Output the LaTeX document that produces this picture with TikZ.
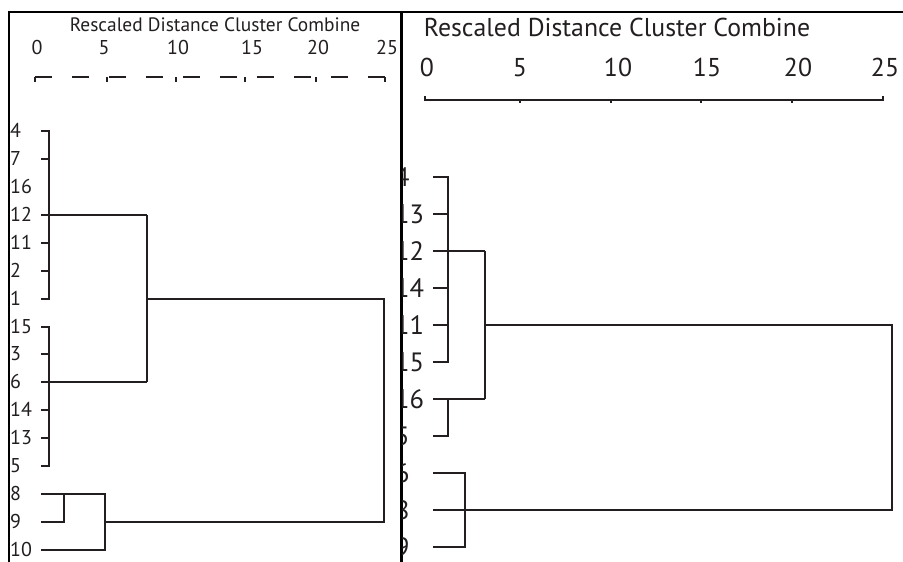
\documentclass[tikz,border=0pt]{standalone}
\usepackage{fontspec}
\setmainfont{PT Sans}
\definecolor{ink}{HTML}{231F20}
\begin{document}
\begin{tikzpicture}[x=1pt,y=-1pt,
  frame/.style={line width=2.2pt, black},
  dendro/.style={line width=2.8pt, ink},
  labL/.style={inner sep=0pt, anchor=base west, text=ink, font=\fontsize{20}{20}\selectfont},
  labR/.style={inner sep=0pt, anchor=base west, text=ink, font=\fontsize{26.5}{26.5}\selectfont},
  numL/.style={inner sep=0pt, anchor=base, text=ink, font=\fontsize{20}{20}\selectfont},
  ttlL/.style={inner sep=0pt, anchor=base, text=ink, font=\fontsize{19.4}{19.4}\selectfont},
  numR/.style={inner sep=0pt, anchor=base, text=ink, font=\fontsize{25.8}{25.8}\selectfont}]
\useasboundingbox (0,0) rectangle (903,562);
\fill[white] (0,0) rectangle (903,562);
% frames
\draw[frame] (9,562) -- (9,12) -- (903,12);
\draw[frame] (401.5,12) -- (401.5,562);
% ---------------- left panel ----------------
\node[ttlL] (tL) at (215,31) {Rescaled Distance Cluster Combine};
\foreach \v/\x in {0/37,5/104,10/178,15/252,20/318,25/387}
  \node[numL] (nL\v) at (\x,54) {\v};
\draw[dendro, line width=2.6pt, dash pattern=on 17pt off 20pt] (35,77) -- (385,77);
\foreach \x in {35,107,176,245,316,385}
  \draw[dendro, line width=2.6pt] (\x,77) -- (\x,82);
\foreach \t [count=\i from 0] in {4,7,16,12,11,2,1,15,3,6,14,13,5,8,9,10}
  \node[labL] (l\t) at (10,{137.5+27.93*\i}) {\t};
% group 1
\draw[dendro] (41,131) -- (49,131) -- (49,299) -- (41,299);
\draw[dendro] (41,159) -- (49,159);
\draw[dendro] (41,243) -- (49,243);
\draw[dendro] (41,271) -- (49,271);
\draw[dendro] (41,215) -- (147,215);
% group 2
\draw[dendro] (41,327) -- (49,327) -- (49,466) -- (41,466);
\draw[dendro] (41,354) -- (49,354);
\draw[dendro] (41,410) -- (49,410);
\draw[dendro] (41,438) -- (49,438);
\draw[dendro] (41,382) -- (147,382);
\draw[dendro] (147,215) -- (147,382);
\draw[dendro] (147,299) -- (384,299) -- (384,522) -- (105,522);
% group 3
\draw[dendro] (41,494) -- (105,494) -- (105,550) -- (41,550);
\draw[dendro] (41,522) -- (64,522) -- (64,494);
% ---------------- right panel ----------------
\node[numR] (tR) at (617,36) {Rescaled Distance Cluster Combine};
\foreach \v/\x in {0/427,5/520,10/618,15/707,20/798,25/885}
  \node[numR] (nR\v) at (\x,76) {\v};
\draw[dendro, line width=2.6pt] (425,96) -- (425,100) -- (883,100) -- (883,96);
\foreach \x in {520,611,701,792}
  \draw[dendro, line width=2.6pt] (\x,99) -- (\x,103);
\begin{scope}
\clip (402.6,12) rectangle (903,562);
\foreach \t [count=\i from 0] in {4,13,12,14,11,15,16,5,6,8,9}
  \node[labR] (r\t) at (395,{186.5+37*\i}) {\t};
\end{scope}
\draw[dendro] (433,177) -- (448,177) -- (448,362) -- (433,362);
\draw[dendro] (433,214) -- (448,214);
\draw[dendro] (433,288) -- (448,288);
\draw[dendro] (433,325) -- (448,325);
\draw[dendro] (433,251) -- (485,251);
\draw[dendro] (433,436) -- (448,436) -- (448,399);
\draw[dendro] (433,399) -- (485,399);
\draw[dendro] (485,251) -- (485,399);
\draw[dendro] (485,325) -- (892,325) -- (892,510) -- (433,510);
\draw[dendro] (433,473) -- (465,473) -- (465,547) -- (433,547);
\end{tikzpicture}
\end{document}
